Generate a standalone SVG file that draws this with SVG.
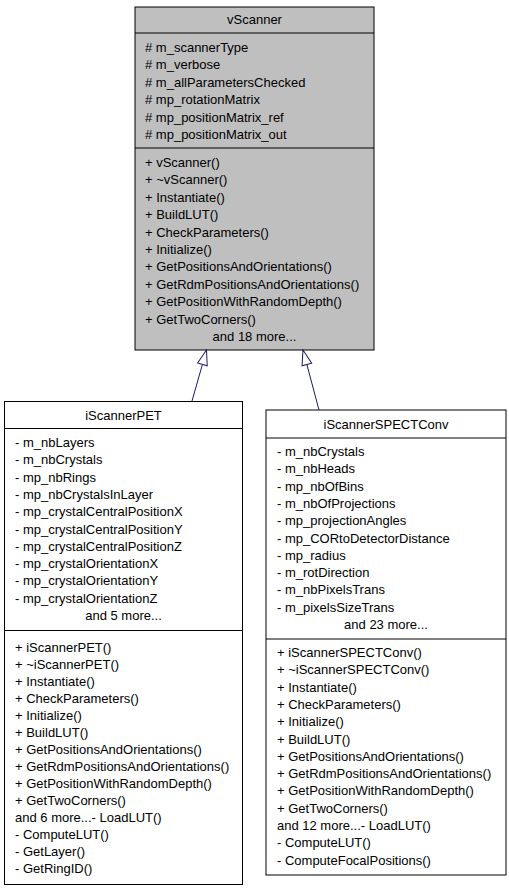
<svg xmlns="http://www.w3.org/2000/svg" width="509" height="891" viewBox="0 0 509 891">
<style>
text{font-family:"Liberation Sans",Arial,sans-serif;font-size:13px;fill:#000}
.c{text-anchor:middle}
.box{stroke:#000;stroke-width:1}
.edge{fill:none;stroke:#191970;stroke-width:1}
</style>
<defs>
<marker id="tri" viewBox="0 0 17 12" markerWidth="17" markerHeight="12" refX="16" refY="6" orient="auto" markerUnits="userSpaceOnUse">
<path d="M1,1 L16,6 L1,11 Z" fill="#fff" stroke="#191970" stroke-width="1"/>
</marker>
</defs>
<g id="vScanner">
<rect class="box" x="135" y="7" width="239" height="343" fill="#bfbfbf"/>
<line class="box" x1="135" y1="33" x2="374" y2="33"/>
<line class="box" x1="135" y1="148" x2="374" y2="148"/>
<text class="c" x="254.5" y="24">vScanner</text>
<text x="145" y="52"># m_scannerType</text>
<text x="145" y="69.4"># m_verbose</text>
<text x="145" y="86.8"># m_allParametersChecked</text>
<text x="145" y="104.2"># mp_rotationMatrix</text>
<text x="145" y="121.6"># mp_positionMatrix_ref</text>
<text x="145" y="139"># mp_positionMatrix_out</text>
<text x="145" y="167">+ vScanner()</text>
<text x="145" y="184.4">+ ~vScanner()</text>
<text x="145" y="201.8">+ Instantiate()</text>
<text x="145" y="219.2">+ BuildLUT()</text>
<text x="145" y="236.6">+ CheckParameters()</text>
<text x="145" y="254">+ Initialize()</text>
<text x="145" y="271.4">+ GetPositionsAndOrientations()</text>
<text x="145" y="288.8">+ GetRdmPositionsAndOrientations()</text>
<text x="145" y="306.2">+ GetPositionWithRandomDepth()</text>
<text x="145" y="323.6">+ GetTwoCorners()</text>
<text class="c" x="254.5" y="341">and 18 more...</text>
</g>
<g id="iScannerPET">
<rect class="box" x="4.5" y="401.5" width="238" height="483" fill="#fff"/>
<line class="box" x1="4.5" y1="428.5" x2="242.5" y2="428.5"/>
<line class="box" x1="4.5" y1="630.5" x2="242.5" y2="630.5"/>
<text class="c" x="123.5" y="420">iScannerPET</text>
<text x="15" y="447">- m_nbLayers</text>
<text x="15" y="464.3">- m_nbCrystals</text>
<text x="15" y="481.6">- mp_nbRings</text>
<text x="15" y="498.9">- mp_nbCrystalsInLayer</text>
<text x="15" y="516.2">- mp_crystalCentralPositionX</text>
<text x="15" y="533.5">- mp_crystalCentralPositionY</text>
<text x="15" y="550.8">- mp_crystalCentralPositionZ</text>
<text x="15" y="568.1">- mp_crystalOrientationX</text>
<text x="15" y="585.4">- mp_crystalOrientationY</text>
<text x="15" y="602.7">- mp_crystalOrientationZ</text>
<text class="c" x="123.5" y="620">and 5 more...</text>
<text x="15" y="651.5">+ iScannerPET()</text>
<text x="15" y="668.5">+ ~iScannerPET()</text>
<text x="15" y="685.5">+ Instantiate()</text>
<text x="15" y="702.5">+ CheckParameters()</text>
<text x="15" y="719.5">+ Initialize()</text>
<text x="15" y="736.5">+ BuildLUT()</text>
<text x="15" y="753.5">+ GetPositionsAndOrientations()</text>
<text x="15" y="770.5">+ GetRdmPositionsAndOrientations()</text>
<text x="15" y="787.5">+ GetPositionWithRandomDepth()</text>
<text x="15" y="804.5">+ GetTwoCorners()</text>
<text x="15" y="821.5">and 6 more...- LoadLUT()</text>
<text x="15" y="838.5">- ComputeLUT()</text>
<text x="15" y="855.5">- GetLayer()</text>
<text x="15" y="872.5">- GetRingID()</text>
</g>
<g id="iScannerSPECTConv">
<rect class="box" x="266" y="410" width="240" height="465" fill="#fff"/>
<line class="box" x1="266" y1="438" x2="506" y2="438"/>
<line class="box" x1="266" y1="639" x2="506" y2="639"/>
<text class="c" x="386" y="428.5">iScannerSPECTConv</text>
<text x="277" y="456">- m_nbCrystals</text>
<text x="277" y="473.3">- m_nbHeads</text>
<text x="277" y="490.6">- mp_nbOfBins</text>
<text x="277" y="507.9">- m_nbOfProjections</text>
<text x="277" y="525.2">- mp_projectionAngles</text>
<text x="277" y="542.5">- mp_CORtoDetectorDistance</text>
<text x="277" y="559.8">- mp_radius</text>
<text x="277" y="577.1">- m_rotDirection</text>
<text x="277" y="594.4">- m_nbPixelsTrans</text>
<text x="277" y="611.7">- m_pixelsSizeTrans</text>
<text class="c" x="386" y="629">and 23 more...</text>
<text x="277" y="657">+ iScannerSPECTConv()</text>
<text x="277" y="674.3">+ ~iScannerSPECTConv()</text>
<text x="277" y="691.6">+ Instantiate()</text>
<text x="277" y="708.9">+ CheckParameters()</text>
<text x="277" y="726.2">+ Initialize()</text>
<text x="277" y="743.5">+ BuildLUT()</text>
<text x="277" y="760.8">+ GetPositionsAndOrientations()</text>
<text x="277" y="778.1">+ GetRdmPositionsAndOrientations()</text>
<text x="277" y="795.4">+ GetPositionWithRandomDepth()</text>
<text x="277" y="812.7">+ GetTwoCorners()</text>
<text x="277" y="830">and 12 more...- LoadLUT()</text>
<text x="277" y="847.3">- ComputeLUT()</text>
<text x="277" y="864.6">- ComputeFocalPositions()</text>
</g>
<g id="connectors">
<path class="edge" d="M192,401 L206.5,350" marker-end="url(#tri)"/>
<path class="edge" d="M319,410 L303,350" marker-end="url(#tri)"/>
</g>
</svg>
